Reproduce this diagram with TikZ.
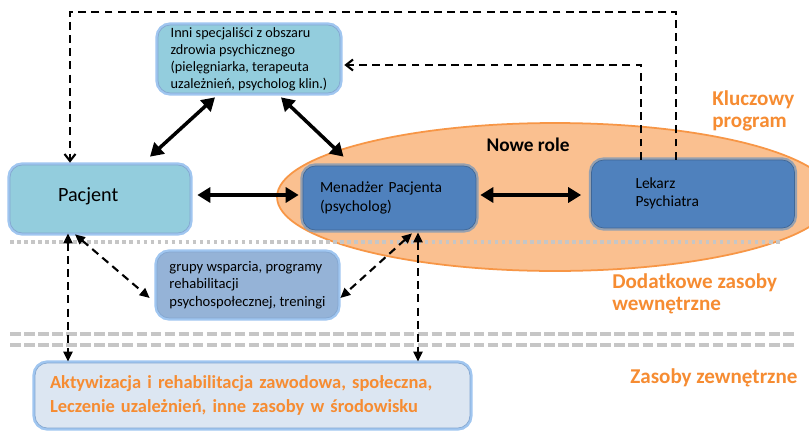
\documentclass[tikz,border=0pt]{standalone}
\usepackage{fontspec}
\setmainfont{Carlito}
\usetikzlibrary{arrows.meta}
\definecolor{paleteal}{RGB}{147,205,221}
\definecolor{roleblue}{RGB}{79,129,189}
\definecolor{groupblue}{RGB}{149,179,215}
\definecolor{extblue}{RGB}{220,230,242}
\definecolor{glowblue}{RGB}{160,198,240}
\definecolor{glowgray}{RGB}{150,160,175}
\definecolor{ovalfill}{RGB}{250,192,144}
\definecolor{ovalline}{RGB}{247,150,70}
\definecolor{labelorange}{RGB}{246,140,50}

\begin{document}
\begin{tikzpicture}[x=0.02cm,y=-0.02cm,
  softbox/.style={rounded corners=7pt,preaction={draw=glowblue,line width=3pt},
    draw=roleblue!70,line width=0.4pt,align=left,inner sep=0pt},
  rolebox/.style={rounded corners=7pt,preaction={draw=glowgray,line width=3pt},
    draw=roleblue!80!black,line width=0.4pt,fill=roleblue,align=left,inner sep=0pt},
  boldlink/.style={line width=2pt,{Triangle[length=0.26cm,width=0.3cm]}-{Triangle[length=0.26cm,width=0.3cm]}},
  dashlink/.style={line width=1.2pt,dash pattern=on 4.5pt off 3pt},
  sidelabel/.style={text=labelorange,font=\bfseries\fontsize{12}{12.5}\selectfont,align=left,anchor=west,inner sep=0pt}]
\clip (0,0) rectangle (809,430);
\fill[white] (0,0) rectangle (809,430);

% key programme
\draw[ovalline,fill=ovalfill,line width=1pt] (555,197) ellipse [x radius=5.56cm,y radius=1.48cm];
\node[font=\bfseries\fontsize{11}{13}\selectfont] (nowe) at (528,145) {Nowe role};

% level separators
\draw[gray!45,line width=2pt,dotted] (10,242) -- (780,242);
\foreach \y in {334,345}
  \draw[gray!45,line width=2pt,dash pattern=on 6pt off 2pt] (10,\y) -- (795,\y);

\node[softbox,fill=paleteal,minimum width=3.64cm,minimum height=1.36cm,
  font=\fontsize{8.1}{9.7}\selectfont] (inni) at (249,59)
  {Inni specjaliści z obszaru\\zdrowia psychicznego\\(pielęgniarka, terapeuta\\uzależnień, psycholog klin.)};
\node[softbox,fill=paleteal,minimum width=3.6cm,minimum height=1.36cm,text width=1.68cm,
  font=\fontsize{11.5}{12}\selectfont] (pac) at (100,199) {\raisebox{0.18cm}{Pacjent}};
\node[rolebox,minimum width=3.46cm,minimum height=1.28cm,text width=2.78cm,
  font=\fontsize{8.8}{10.5}\selectfont] (men) at (389.5,198) {Menadżer Pacjenta\\(psycholog)};
\node[rolebox,minimum width=4.06cm,minimum height=1.36cm,text width=2.3cm,
  font=\fontsize{8.8}{10.5}\selectfont] (lek) at (693,194) {\raisebox{0.08cm}{\begin{tabular}{@{}l@{}}Lekarz\\Psychiatra\end{tabular}}};
\node[softbox,fill=groupblue,minimum width=3.62cm,minimum height=1.32cm,
  font=\fontsize{8.3}{9.9}\selectfont] (grupy) at (247.5,285)
  {grupy wsparcia, programy\\rehabilitacji\\psychospołecznej, treningi};
\node[softbox,fill=extblue,minimum width=8.7cm,minimum height=1.3cm,text width=8.1cm,
  text=labelorange,font=\bfseries\fontsize{10.5}{13.5}\selectfont] (zew) at (252.5,395.5)
  {Aktywizacja i rehabilitacja zawodowa, społeczna,\\Leczenie uzależnień, inne zasoby w środowisku};

% side labels
\node[sidelabel] (klucz) at (712,111) {Kluczowy\\program};
\node[sidelabel] (dodat) at (612,294) {Dodatkowe zasoby\\wewnętrzne};
\node[sidelabel] (zasoby) at (630,378) {Zasoby zewnętrzne};

% core links
\draw[boldlink] ([shift={(7,-4)}]pac.east) -- ([shift={(-4,-3)}]men.west);
\draw[boldlink] ([shift={(4,-3)}]men.east) -- ([shift={(-10,1)}]lek.west);
\draw[boldlink] ([shift={(-34,4)}]inni.south) -- ([shift={(50,-8)}]pac.north);
\draw[boldlink] ([shift={(32,4)}]inni.south) -- ([shift={(-46,-9)}]men.north);

% feedback from psychiatrist
\draw[dashlink,-{Straight Barb[length=0.14cm,width=0.22cm]}]
  ([shift={(-17,0)}]lek.north) -- ++(0,-148) -| ([shift={(-30,-2)}]pac.north);
\draw[dashlink,-{Straight Barb[length=0.14cm,width=0.22cm]}]
  ([shift={(-52,0)}]lek.north) |- ([shift={(4,6)}]inni.east);

% additional and external resources
\draw[dashlink,{Triangle[length=0.2cm,width=0.18cm]}-{Triangle[length=0.2cm,width=0.18cm]}]
  ([shift={(-25,1)}]pac.south) -- ([shift={(-7,13)}]grupy.west);
\draw[dashlink,{Triangle[length=0.2cm,width=0.18cm]}-{Triangle[length=0.2cm,width=0.18cm]}]
  ([shift={(22.5,3)}]men.south) -- ([shift={(2,13)}]grupy.east);
\draw[dashlink,line width=1.6pt,{Triangle[length=0.2cm,width=0.18cm]}-{Triangle[length=0.2cm,width=0.18cm]}]
  ([shift={(-32,0)}]pac.south) -- ([shift={(-184.5,-1)}]zew.north);
\draw[dashlink,line width=1.6pt,{Triangle[length=0.2cm,width=0.18cm]}-{Triangle[length=0.2cm,width=0.18cm]}]
  ([shift={(28.5,2)}]men.south) -- ([shift={(165.5,-1)}]zew.north);
\end{tikzpicture}
\end{document}
